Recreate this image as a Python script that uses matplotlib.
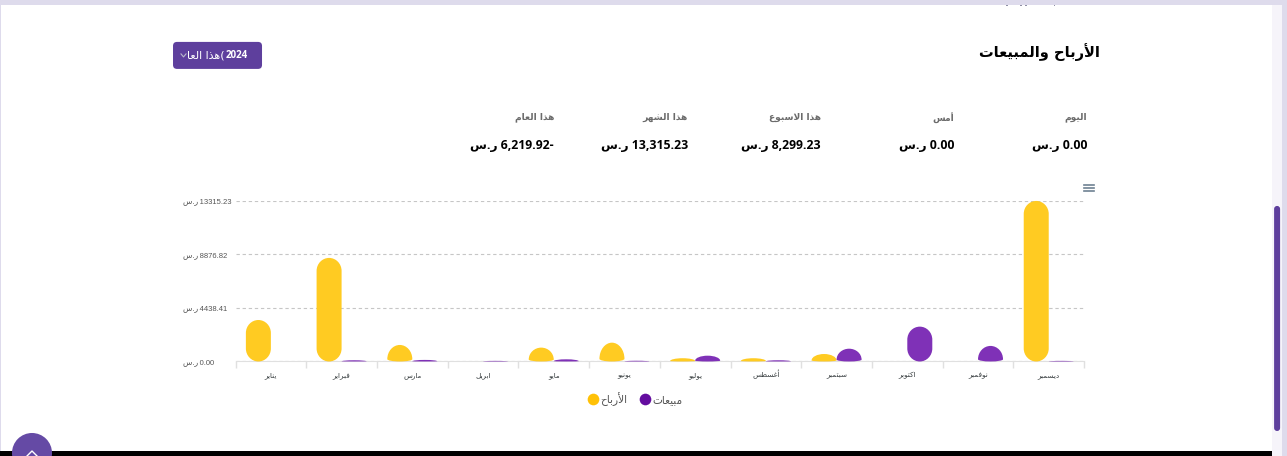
import matplotlib
matplotlib.use("Agg")
import matplotlib.pyplot as plt
from matplotlib.patches import PathPatch, Rectangle, Circle, FancyBboxPatch
from matplotlib.path import Path
from matplotlib.lines import Line2D

# ---- data ----
months = ["يناير", "فبراير", "مارس", "ابريل", "مايو", "يونيو", "يوليو", "أغسطس", "سبتمبر", "اكتوبر", "نوفمبر", "ديسمبر"]
profit = [3440, 8590, 1370, 0, 1150, 1560, 270, 270, 620, 0, 0, 13315.23]
sales = [0, 100, 130, 50, 180, 60, 480, 100, 1060, 2890, 1290, 50]
ytick_values = [0.00, 4438.41, 8876.82, 13315.23]
kpi_labels = ["اليوم", "أمس", "هذا الاسبوع", "هذا الشهر", "هذا العام"]
kpi_values = ["0.00", "0.00", "8,299.23", "13,315.23", "6,219.92-"]
kpi_right_px = [1087, 954, 821, 688, 554]
title = "الأرباح والمبيعات"
currency = "ر.س"
series_names = ["الأرباح", "مبيعات"]
button_text = "(هذا العا"
button_year = "2024"

YELLOW, PURPLE = "#FFCB22", "#7F31B7"
W, H = 1287, 456

# ---- Arabic shaping (matplotlib does not shape) ----
JOIN = {"ب":0xFE8F,"ت":0xFE95,"ج":0xFE9D,"ح":0xFEA1,"س":0xFEB1,"ش":0xFEB5,"ط":0xFEC1,"ع":0xFEC9,
        "غ":0xFECD,"ف":0xFED1,"ك":0xFED9,"ل":0xFEDD,"م":0xFEE1,"ن":0xFEE5,"ه":0xFEE9,"ي":0xFEF1}
RIGHT = {"ا":0xFE8D,"أ":0xFE83,"د":0xFEA9,"ذ":0xFEAB,"ر":0xFEAD,"و":0xFEED}
def shape(s):
    s = s.replace("لأ", "\uFEF7").replace("لا", "\uFEFB")
    lig = {"\uFEF7", "\uFEFB"}
    out = []
    for i, c in enumerate(s):
        prev_j = i > 0 and s[i-1] in JOIN
        next_j = i+1 < len(s) and (s[i+1] in JOIN or s[i+1] in RIGHT or s[i+1] in lig)
        if c in lig:
            out.append(chr(ord(c) + (1 if prev_j else 0)))
        elif c in RIGHT:
            out.append(chr(RIGHT[c] + (1 if prev_j else 0)))
        elif c in JOIN:
            b = JOIN[c]
            out.append(chr(b + (3 if prev_j and next_j else 1 if prev_j else 2 if next_j else 0)))
        else:
            out.append(c)
    return "".join(reversed(out))

AR = ["DejaVu Sans"]
MIX = ["Open Sans", "DejaVu Sans"]
fig = plt.figure(figsize=((W+0.1)/100, (H+0.1)/100), dpi=100, facecolor="white")

# page chrome in pixel coordinates
bg = fig.add_axes([0, 0, 1, 1], zorder=0)
bg.set_xlim(0, W); bg.set_ylim(H, 0); bg.axis("off")
def rect(x, y, w, h, c, z=1):
    bg.add_patch(Rectangle((x, y), w, h, fc=c, ec="none", zorder=z))
rect(0, 0, W, 5, "#DEDBEC")
rect(0, 0, 1, H, "#DEDBEC")
rect(1272, 5, 10, H-5, "#F6F4FA")
rect(1282, 0, 5, H, "#DEDBEC")
rect(0, 451, 1272, 5, "#000000")
for x, w in ((1006, 2), (1020, 2), (1025, 2), (1054, 1)):
    rect(x, 5, w, 1, "#8F8FA5")
bg.add_patch(FancyBboxPatch((1274, 206), 6, 225, boxstyle="round,pad=0,rounding_size=3", fc="#5E3F9D", ec="none", zorder=2))
bg.add_patch(Circle((32, 453), 20, fc="#654AA5", ec="none", zorder=3))
bg.plot([27, 32, 37], [456, 451, 456], color="white", lw=1, zorder=4)
bg.add_patch(FancyBboxPatch((173, 42), 89, 27, boxstyle="round,pad=0,rounding_size=4", fc="#5E3F9D", ec="none", zorder=2))
bg.text(248, 55, button_year, color="white", fontsize=7.0, family=MIX, weight="bold", ha="right", va="center", zorder=3)
bg.text(225, 55, shape(button_text), color="white", fontsize=8.0, family=AR, ha="right", va="center", zorder=3)
bg.plot([181, 183.5, 186], [54, 57, 54], color="#B9B9C9", lw=0.8, zorder=4)
bg.text(1100, 52, shape(title), color="black", fontsize=10.5, family=AR, weight="bold", ha="right", va="center", zorder=3)
for lab, val, xr in zip(kpi_labels, kpi_values, kpi_right_px):
    bg.text(xr, 117.5, shape(lab), color="#6b6b6b", fontsize=6.6, family=AR, weight="bold", ha="right", va="center", zorder=3)
    bg.text(xr, 145, shape(currency) + " " + val, color="black", fontsize=8.8, family=MIX, weight="bold", ha="right", va="center", zorder=3)
for y in (185, 188, 191):
    bg.plot([1084, 1094], [y+.5, y+.5], color="#6E8192", lw=1.2, zorder=3)

# chart axes
L, R, T, B = 235.5, 1084, 201, 361.5
ax = fig.add_axes([L/W, 1-B/H, (R-L)/W, (B-T)/H], zorder=2)
ax.patch.set_alpha(0)
ax.set_xlim(-0.5, 11.5)
ax.set_ylim(0, max(ytick_values))
for s in ("top", "left", "right"):
    ax.spines[s].set_visible(False)
ax.spines["bottom"].set_color("#E0E0E0")
ax.set_xticks([i - 0.5 for i in range(len(months)+1)])
ax.set_xticklabels([])
ax.tick_params(axis="x", which="major", length=5, color="#E0E0E0", width=1)
ax.set_xticks(range(len(months)), [shape(m) for m in months], minor=True)
ax.tick_params(axis="x", which="minor", length=0, pad=11, labelsize=5.2, labelcolor="#373D3F")
for t in ax.get_xticklabels(minor=True):
    t.set_family(AR); t.set_va("baseline")
ax.set_yticks(ytick_values, [f"{shape(currency)}\u2009{v:.2f}" for v in ytick_values])
ax.tick_params(axis="y", length=0, pad=4, labelsize=5.5, labelcolor="#555555")
for t in ax.get_yticklabels():
    t.set_family(["Liberation Sans", "DejaVu Sans"]); t.set_ha("left"); t.set_x(-47/(R-L))
ax.grid(axis="y", color="#C6C6C6", ls=(0, (3, 2.5)), lw=0.8)
ax.set_axisbelow(True)

bw = 25 / ((R-L)/12)           # bar width in category units
upp = max(ytick_values) / (B-T)  # data units per pixel
K = 0.5523
def bar(xc, left, v, color):
    if v <= 0:
        return
    hpx = v / upp
    if hpx >= 26:
        rt, rb = 13*upp, 13*upp
    else:
        rt, rb = v*0.86, v*0.14
    x0, x1 = left, left + bw
    rx = bw/2
    xm = (x0+x1)/2
    verts = [(x0, rb), (x0, v-rt),
             (x0, v-rt+K*rt), (xm-K*rx, v), (xm, v),
             (xm+K*rx, v), (x1, v-rt+K*rt), (x1, v-rt),
             (x1, rb),
             (x1, rb-K*rb), (xm+K*rx, 0), (xm, 0),
             (xm-K*rx, 0), (x0, rb-K*rb), (x0, rb), (x0, rb)]
    codes = [Path.MOVETO, Path.LINETO] + [Path.CURVE4]*6 + [Path.LINETO] + [Path.CURVE4]*6 + [Path.CLOSEPOLY]
    ax.add_patch(PathPatch(Path(verts, codes), fc=color, ec="none", zorder=3, clip_on=False))
for i, (p, s) in enumerate(zip(profit, sales)):
    bar(i, i-bw, p, YELLOW)
    bar(i, i, s, PURPLE)

handles = [Line2D([], [], ls="", marker="o", ms=8.4, mfc="#FFC107", mec="none", label=shape(series_names[0])),
           Line2D([], [], ls="", marker="o", ms=8.4, mfc="#640D9F", mec="none", label=shape(series_names[1]))]
leg = ax.legend(handles=handles, ncol=2, frameon=False, loc="center", bbox_to_anchor=((634.5-L)/(R-L), 1-(398.5-T)/(B-T)),
                labelcolor="#555555", handletextpad=0.05, columnspacing=1.0, handlelength=1.3,
                prop={"family": AR, "size": 7.6})
fig.savefig("out.png", dpi=100)
